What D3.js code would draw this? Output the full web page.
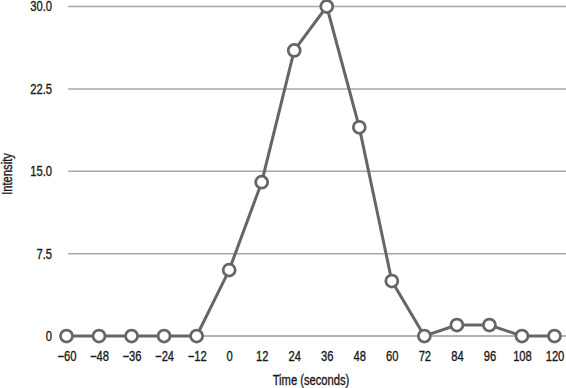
<!DOCTYPE html>
<html>
<head>
<meta charset="utf-8">
<script src="https://cdn.jsdelivr.net/npm/d3@7"></script>
<style>
  body { margin: 0; background: #fff; }
  text { font-family: "Liberation Sans", Arial, sans-serif; font-size: 14px; fill: #1a1a1a; stroke: #1a1a1a; stroke-width: 0.35px; }
</style>
</head>
<body>
<div id="chart"></div>
<script>
// data
const times = [-60, -48, -36, -24, -12, 0, 12, 24, 36, 48, 60, 72, 84, 96, 108, 120];
const intensity = [0, 0, 0, 0, 0, 6, 14, 26, 30, 19, 5, 0, 1, 1, 0, 0];
const yTicks = [0, 7.5, 15, 22.5, 30];

const width = 566, height = 388;
const squeeze = 'scale(0.8,1)';  // narrow look of the original font

const svg = d3.select('#chart').append('svg')
  .attr('width', width)
  .attr('height', height);

const x = d3.scaleLinear().domain([-60, 120]).range([66.5, 554.5]);
const y = d3.scaleLinear().domain([0, 30]).range([336, 6.5]);

// grid lines
svg.append('g')
  .selectAll('line')
  .data(yTicks.filter(d => d !== 0))
  .enter().append('line')
  .attr('x1', 68).attr('x2', width)
  .attr('y1', d => y(d)).attr('y2', d => y(d))
  .attr('stroke', '#a8a8a8')
  .attr('stroke-width', 1.5);

// baseline
svg.append('line')
  .attr('x1', 68).attr('x2', width)
  .attr('y1', y(0)).attr('y2', y(0))
  .attr('stroke', '#666')
  .attr('stroke-width', 1);

// y axis labels
const yAxis = svg.append('g')
  .attr('transform', 'translate(52,0)')
  .call(d3.axisLeft(y).tickValues(yTicks).tickSize(0).tickPadding(0)
    .tickFormat(d => d === 0 ? '0' : d3.format('.1f')(d)));
yAxis.select('.domain').remove();

// x axis labels
const xAxis = svg.append('g')
  .attr('transform', 'translate(0,' + (y(0) + 15) + ')')
  .call(d3.axisBottom(x).tickValues(times).tickSize(0).tickPadding(0)
    .tickFormat(d => d < 0 ? '\u2212' + Math.abs(d) : String(d)));
xAxis.select('.domain').remove();

svg.selectAll('g').attr('font-family', null).attr('font-size', null);
svg.selectAll('.tick text').attr('fill', null).attr('transform', squeeze);

// axis titles
svg.append('text')
  .attr('transform', 'translate(311,385) ' + squeeze)
  .attr('text-anchor', 'middle')
  .text('Time (seconds)');

svg.append('text')
  .attr('transform', 'translate(12,174) rotate(-90) ' + squeeze)
  .attr('text-anchor', 'middle')
  .text('Intensity');

const pts = times.map((t, i) => ({ t: t, v: intensity[i] }));

svg.append('path')
  .datum(pts)
  .attr('fill', 'none')
  .attr('stroke', '#666')
  .attr('stroke-width', 3)
  .attr('d', d3.line().x(d => x(d.t)).y(d => y(d.v)));

svg.selectAll('.pt')
  .data(pts)
  .enter().append('circle')
  .attr('class', 'pt')
  .attr('cx', d => x(d.t))
  .attr('cy', d => y(d.v))
  .attr('r', 6)
  .attr('fill', '#fff')
  .attr('stroke', '#666')
  .attr('stroke-width', 2.75);
</script>
</body>
</html>
